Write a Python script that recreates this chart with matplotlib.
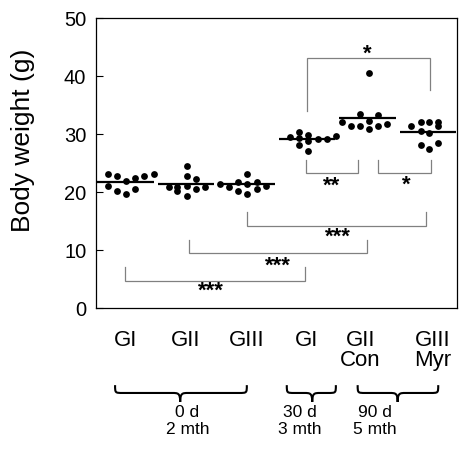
import matplotlib
matplotlib.use("Agg")
import matplotlib.pyplot as plt
from matplotlib.path import Path
from matplotlib.patches import PathPatch
from matplotlib.transforms import blended_transform_factory, ScaledTranslation

plt.rcParams["font.family"] = ["Liberation Sans", "DejaVu Sans"]

# groups: 0 d (GI, GII, GIII), 30 d (GI), 90 d (GII Con, GIII Myr)
GROUP_LABELS = ["GI", "GII", "GIII", "GI", "GII\nCon", "GIII\nMyr"]

g1_weight = [23.1, 22.8, 21.95, 22.5, 22.8, 23.1, 21.1, 20.2, 19.65, 20.45]
g1_jitter = [-0.29, -0.14, 0.02, 0.17, 0.32, 0.48, -0.29, -0.14, 0.02, 0.17]

g2_weight = [24.5, 22.76, 22.2, 20.8, 20.8, 20.2, 21.0, 20.5, 20.8, 19.3]
g2_jitter = [0.02, 0.02, 0.17, -0.28, -0.14, -0.14, 0.02, 0.17, 0.32, 0.02]

g3_weight = [21.3, 20.8, 21.8, 20.2, 23.1, 21.3, 19.65, 21.7, 20.6, 21.1]
g3_jitter = [-0.43, -0.28, -0.13, -0.13, 0.02, 0.02, 0.02, 0.17, 0.17, 0.32]

g4_weight = [29.4, 30.3, 29.3, 28.1, 29.9, 28.8, 27.1, 29.1, 29.1, 29.6]
g4_jitter = [-0.28, -0.13, -0.13, -0.13, 0.02, 0.02, 0.02, 0.18, 0.33, 0.48]

g5_weight = [40.6, 33.4, 33.3, 32.1, 31.4, 31.3, 32.3, 30.9, 31.4, 31.7]
g5_jitter = [0.03, -0.12, 0.18, -0.42, -0.27, -0.12, 0.03, 0.03, 0.18, 0.33]

g6_weight = [31.4, 32.1, 32.1, 32.1, 31.4, 30.5, 30.1, 28.1, 27.5, 28.5]
g6_jitter = [-0.28, -0.12, 0.02, 0.17, 0.17, -0.12, 0.02, -0.12, 0.02, 0.17]

GROUP_MEANS = [21.8, 21.4, 21.3, 29.1, 32.8, 30.4]

# significance brackets: (x left, x right, y of bar, y of left tip, y of right tip)
SIG_BRACKETS = [
    (4.0, 6.03, 43.1, 33.9, 37.6),
    (3.99, 4.85, 23.2, 25.5, 25.5),
    (5.18, 6.05, 23.2, 25.5, 25.5),
    (3.02, 5.96, 14.2, 16.6, 16.6),
    (2.05, 4.99, 9.5, 11.8, 11.8),
    (1.0, 3.97, 4.7, 7.0, 7.0),
]
SIG_LABELS = ["*", "**", "*", "***", "***", "***"]
SIG_LABEL_XY = [(5.0, 44.4), (4.41, 21.5), (5.65, 21.8), (4.52, 12.8), (3.53, 7.8), (2.41, 3.4)]

# time points under the group labels
PERIOD_SPANS = [(0.835, 3.01, 1.91), (3.67, 4.48, 4.09), (4.84, 6.17, 5.5)]
PERIOD_LABELS = ["0 d\n2 mth", "30 d\n3 mth", "90 d\n5 mth"]
PERIOD_LABEL_X = [2.03, 3.89, 5.13]


def brace_path(x0, x1, xc, y_end, y_mid, y_tip, r=0.13):
    verts = [
        (x0, y_end),
        (x0, y_mid), (x0, y_mid), (x0 + r, y_mid),
        (xc - r, y_mid),
        (xc - r * 0.3, y_mid), (xc, y_mid), (xc, y_tip),
        (xc, y_mid), (xc + r * 0.3, y_mid), (xc + r, y_mid),
        (x1 - r, y_mid),
        (x1, y_mid), (x1, y_mid), (x1, y_end),
    ]
    codes = [Path.MOVETO,
             Path.CURVE4, Path.CURVE4, Path.CURVE4,
             Path.LINETO,
             Path.CURVE4, Path.CURVE4, Path.CURVE4,
             Path.CURVE4, Path.CURVE4, Path.CURVE4,
             Path.LINETO,
             Path.CURVE4, Path.CURVE4, Path.CURVE4]
    return Path(verts, codes)


def main():
    weights = [g1_weight, g2_weight, g3_weight, g4_weight, g5_weight, g6_weight]
    jitters = [g1_jitter, g2_jitter, g3_jitter, g4_jitter, g5_jitter, g6_jitter]

    fig = plt.figure(figsize=(4.59, 4.65), dpi=100)
    ax = fig.add_axes([96 / 459, 157 / 465, 361 / 459, 290 / 465])

    for i, (w, j) in enumerate(zip(weights, jitters)):
        pos = i + 1
        ax.plot([pos + d for d in j], w, "o", color="black", markersize=4.9,
                markeredgewidth=0, clip_on=False, zorder=3)
        ax.plot([pos - 0.46, pos + 0.47], [GROUP_MEANS[i]] * 2, color="black",
                linewidth=1.6, solid_capstyle="butt", zorder=3)

    for (xl, xr, yb, yl, yr), lab, (tx, ty) in zip(SIG_BRACKETS, SIG_LABELS, SIG_LABEL_XY):
        ax.plot([xl, xl, xr, xr], [yl, yb, yb, yr], color="#808080", linewidth=0.9,
                solid_joinstyle="miter", zorder=2)
        ax.annotate(lab, (tx, ty), xytext=(0, -6.4), textcoords="offset points",
                    ha="center", va="baseline", fontsize=16, fontweight="bold")

    ax.set_xlim(0.52, 6.48)
    ax.set_ylim(0, 50)
    ax.set_yticks([0, 10, 20, 30, 40, 50])
    ax.set_xticks(range(1, 7))
    ax.set_xticklabels(GROUP_LABELS, fontsize=16, linespacing=0.98)
    ax.tick_params(axis="x", length=0, pad=15.5)
    ax.tick_params(axis="y", direction="in", length=5, width=0.8, pad=7, labelsize=14.5)
    # the two-line labels sit a little off their group centres in the original
    for lab, dx in zip(ax.get_xticklabels()[4:], (-5.0, 3.6)):
        lab.set_transform(lab.get_transform() + ScaledTranslation(dx / 72, 0, fig.dpi_scale_trans))
    for sp in ax.spines.values():
        sp.set_linewidth(0.9)
    ax.set_ylabel("Body weight (g)", fontsize=19)
    ax.yaxis.set_label_coords(-0.169, 0.579)

    trans = blended_transform_factory(ax.transData, ax.transAxes)
    for (x0, x1, xc), lab, lx in zip(PERIOD_SPANS, PERIOD_LABELS, PERIOD_LABEL_X):
        ax.add_patch(PathPatch(brace_path(x0, x1, xc, -0.266, -0.293, -0.324),
                               transform=trans, facecolor="none", edgecolor="black",
                               linewidth=1.5, clip_on=False))
        ax.text(lx, -0.334, lab, transform=trans, ha="center", va="top",
                fontsize=12.5, linespacing=1.18)

    fig.savefig("out.png", dpi=100)
    plt.close(fig)


if __name__ == "__main__":
    main()
